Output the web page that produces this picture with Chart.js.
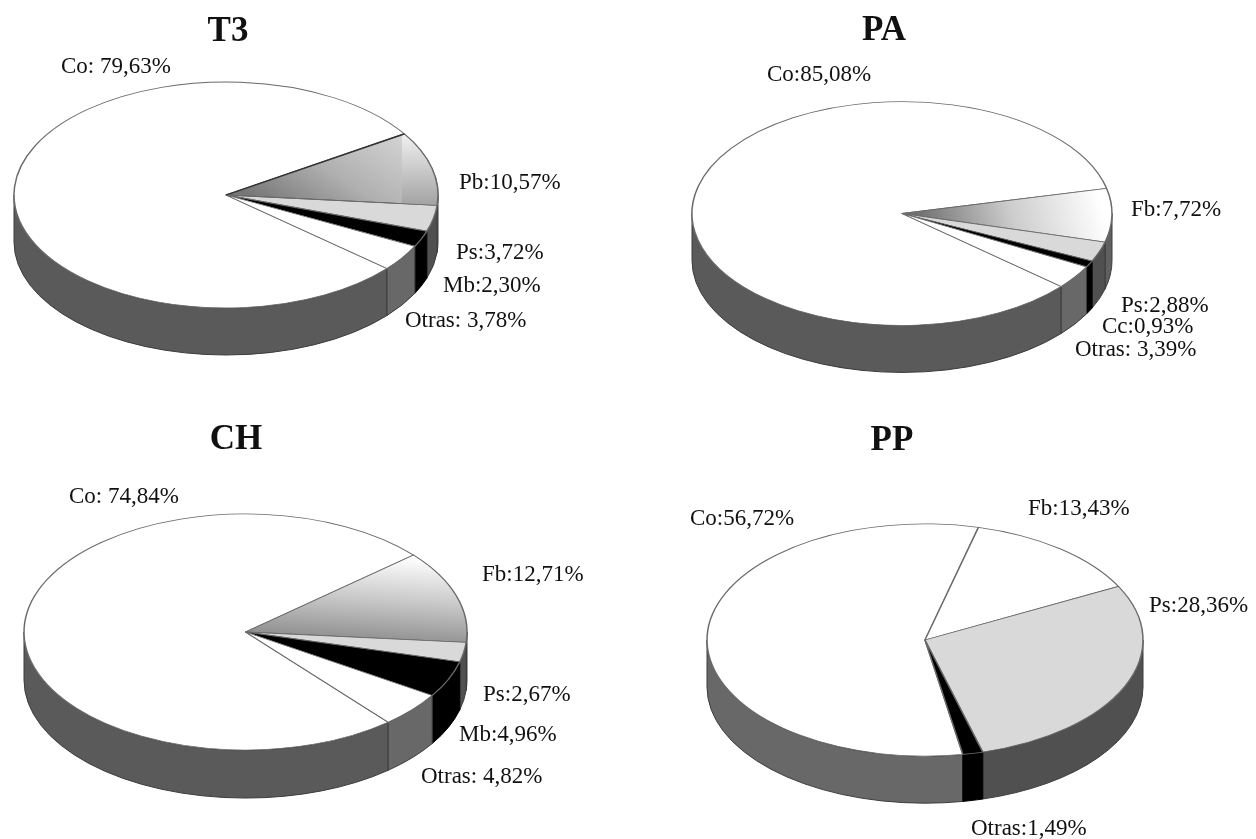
<!DOCTYPE html>
<html lang="es">
<head>
<meta charset="utf-8">
<title>Composición por zona</title>
<script src="https://cdn.jsdelivr.net/npm/chart.js@4"></script>
<style>
  html, body { margin: 0; padding: 0; background: #fff; }
  #stage { position: relative; width: 1256px; height: 839px; overflow: hidden; }
  #stage canvas { position: absolute; left: 0; top: 0; }
</style>
</head>
<body>
<div id="stage"></div>
<script>
// Zone data
const t3Names = ['Co: ', 'Pb:', 'Ps:', 'Mb:', 'Otras: '];
const t3Values = [79.63, 10.57, 3.72, 2.30, 3.78];
const paNames = ['Co:', 'Fb:', 'Ps:', 'Cc:', 'Otras: '];
const paValues = [85.08, 7.72, 2.88, 0.93, 3.39];
const chNames = ['Co: ', 'Fb:', 'Ps:', 'Mb:', 'Otras: '];
const chValues = [74.84, 12.71, 2.67, 4.96, 4.82];
const ppNames = ['Co:', 'Fb:', 'Ps:', 'Otras:'];
const ppValues = [56.72, 13.43, 28.36, 1.49];

const WIDTH = 1256, HEIGHT = 839;
const TILT = 0.533;
const LIGHT = '#d9d9d9', WHITE = '#ffffff', BLACK = '#000000';
const WALL_A = '#5a5a5a', WALL_B = '#686868', WALL_C = '#505050';

// Gradient slices are described in radius units around the pie centre.
const t3Sheen = { from: [0.83, -0.5], to: [0.15, 0.06], stops: ['#d2d2d2', '#b0b0b0', '#767676'] };
const paSheen = { from: [0.95, -0.08], to: [0.08, 0.05], stops: ['#ffffff', '#cccccc', '#707070'] };
const chSheen = { from: [0.55, -0.66], to: [0.45, 0.12], stops: ['#ffffff', '#c6c6c6', '#868686'] };

// Lighter outer block and darker leading edge of the T3 gradient slice.
const t3Block = { slice: 1, left: 0.83, top: -0.55, bottom: 0.08, stops: ['#f2f2f2', '#a4a4a4'], edge: '#333333' };

const panels = [
  { title: 'T3', titleX: 228, titleY: 41, cx: 226, cy: 195, r: 212, depth: 47, rotation: 130.6,
    names: t3Names, values: t3Values,
    fills: [WHITE, t3Sheen, LIGHT, BLACK, WHITE],
    walls: [WALL_A, '#777777', WALL_C, BLACK, WALL_B],
    block: t3Block,
    labels: [[61, 73], [459, 189], [456, 259], [443, 292], [405, 327]] },
  { title: 'PA', titleX: 884, titleY: 40, cx: 902, cy: 213.5, r: 210, depth: 47, rotation: 130.7,
    names: paNames, values: paValues,
    fills: [WHITE, paSheen, LIGHT, BLACK, WHITE],
    walls: [WALL_A, '#606060', WALL_C, BLACK, WALL_B],
    labels: [[767, 81], [1131, 216], [1121, 312], [1102, 333], [1075, 356]] },
  { title: 'CH', titleX: 236, titleY: 449, cx: 245.5, cy: 632, r: 221.5, depth: 48, rotation: 139.9,
    names: chNames, values: chValues,
    fills: [WHITE, chSheen, LIGHT, BLACK, WHITE],
    walls: [WALL_A, '#666666', WALL_C, BLACK, WALL_B],
    labels: [[69, 503], [482, 581], [483, 701], [459, 741], [421, 783]] },
  { title: 'PP', titleX: 892, titleY: 450, cx: 925, cy: 640, r: 218, depth: 47, rotation: 170,
    names: ppNames, values: ppValues,
    fills: [WHITE, WHITE, LIGHT, BLACK],
    walls: [WALL_B, WALL_B, WALL_C, BLACK],
    labels: [[690, 525], [1028, 515], [1149, 612], [971, 835]] }
];

const formatValue = v => v.toFixed(2).replace('.', ',') + '%';

// Draws the cylinder wall under each slice, then flattens the pie into an ellipse.
const tiltedPie = {
  id: 'tiltedPie',
  beforeDatasetsDraw(chart, args, opts) {
    const ctx = chart.ctx;
    const arcs = chart.getDatasetMeta(0).data;
    const cx = arcs[0].x, cy = arcs[0].y;
    const rx = arcs[0].outerRadius, ry = rx * TILT;
    ctx.save();
    arcs.forEach((arc, i) => {
      [-2 * Math.PI, 0, 2 * Math.PI].forEach(shift => {
        const a = Math.max(arc.startAngle + shift, 0);
        const b = Math.min(arc.endAngle + shift, Math.PI);
        if (b <= a) return;
        ctx.beginPath();
        ctx.ellipse(cx, cy, rx, ry, 0, a, b);
        ctx.ellipse(cx, cy + opts.depth, rx, ry, 0, b, a, true);
        ctx.closePath();
        ctx.fillStyle = opts.walls[i];
        ctx.strokeStyle = opts.walls[i] === BLACK ? BLACK : '#3c3c3c';
        ctx.lineWidth = 1;
        ctx.fill();
        ctx.stroke();
      });
    });
    ctx.restore();
    ctx.save();
    ctx.translate(cx, cy);
    ctx.scale(1, TILT);
    ctx.translate(-cx, -cy);
  },
  afterDatasetsDraw(chart, args, opts) {
    const ctx = chart.ctx;
    const block = opts.block;
    if (block) {
      const arc = chart.getDatasetMeta(0).data[block.slice];
      const { x: cx, y: cy, outerRadius: r } = arc;
      ctx.save();
      ctx.beginPath();
      ctx.moveTo(cx, cy);
      ctx.arc(cx, cy, r, arc.startAngle, arc.endAngle);
      ctx.closePath();
      ctx.clip();
      const g = ctx.createLinearGradient(0, cy + block.top * r, 0, cy + block.bottom * r);
      block.stops.forEach((s, i) => g.addColorStop(i / (block.stops.length - 1), s));
      ctx.fillStyle = g;
      ctx.fillRect(cx + block.left * r, cy - r, r, 2 * r);
      ctx.restore();
      // Redraw the slice outline over the block, with its darker leading edge.
      ctx.save();
      ctx.strokeStyle = '#6a6a6a';
      ctx.lineWidth = 1.5;
      ctx.beginPath();
      ctx.moveTo(cx, cy);
      ctx.lineTo(cx + r * Math.cos(arc.endAngle), cy + r * Math.sin(arc.endAngle));
      ctx.moveTo(cx + r * Math.cos(arc.startAngle), cy + r * Math.sin(arc.startAngle));
      ctx.arc(cx, cy, r, arc.startAngle, arc.endAngle);
      ctx.stroke();
      ctx.strokeStyle = block.edge;
      ctx.lineWidth = 2.4;
      ctx.beginPath();
      ctx.moveTo(cx, cy);
      ctx.lineTo(cx + r * Math.cos(arc.startAngle), cy + r * Math.sin(arc.startAngle));
      ctx.stroke();
      ctx.restore();
    }
    ctx.restore();
  },
  afterDraw(chart, args, opts) {
    const ctx = chart.ctx;
    ctx.save();
    ctx.fillStyle = '#111111';
    ctx.textBaseline = 'alphabetic';
    ctx.textAlign = 'center';
    ctx.font = 'bold 35px "Liberation Serif"';
    ctx.fillText(opts.title, opts.titleX, opts.titleY);
    ctx.textAlign = 'left';
    ctx.font = '23px "Liberation Serif"';
    opts.names.forEach((name, i) => {
      const [x, y] = opts.labels[i];
      ctx.fillText(name + formatValue(opts.values[i]), x, y);
    });
    ctx.restore();
  }
};

panels.forEach(panel => {
  const canvas = document.createElement('canvas');
  canvas.width = WIDTH;
  canvas.height = HEIGHT;
  document.getElementById('stage').appendChild(canvas);

  const fillFor = c => {
    const fill = panel.fills[c.dataIndex];
    if (typeof fill === 'string') return fill;
    const { cx, cy, r } = panel;
    const g = c.chart.ctx.createLinearGradient(
      cx + fill.from[0] * r, cy + fill.from[1] * r,
      cx + fill.to[0] * r, cy + fill.to[1] * r);
    fill.stops.forEach((s, i) => g.addColorStop(i / (fill.stops.length - 1), s));
    return g;
  };

  new Chart(canvas, {
    type: 'pie',
    data: {
      labels: panel.names,
      datasets: [{
        data: panel.values,
        backgroundColor: fillFor,
        borderColor: '#6a6a6a',
        borderWidth: 1.5,
        radius: panel.r,
        clip: false
      }]
    },
    options: {
      responsive: false,
      animation: false,
      events: [],
      rotation: panel.rotation,
      layout: {
        padding: {
          left: panel.cx - 50,
          right: WIDTH - panel.cx - 50,
          top: panel.cy - 50,
          bottom: HEIGHT - panel.cy - 50
        }
      },
      plugins: {
        legend: { display: false },
        tooltip: { enabled: false },
        tiltedPie: panel
      }
    },
    plugins: [tiltedPie]
  });
});
</script>
</body>
</html>
